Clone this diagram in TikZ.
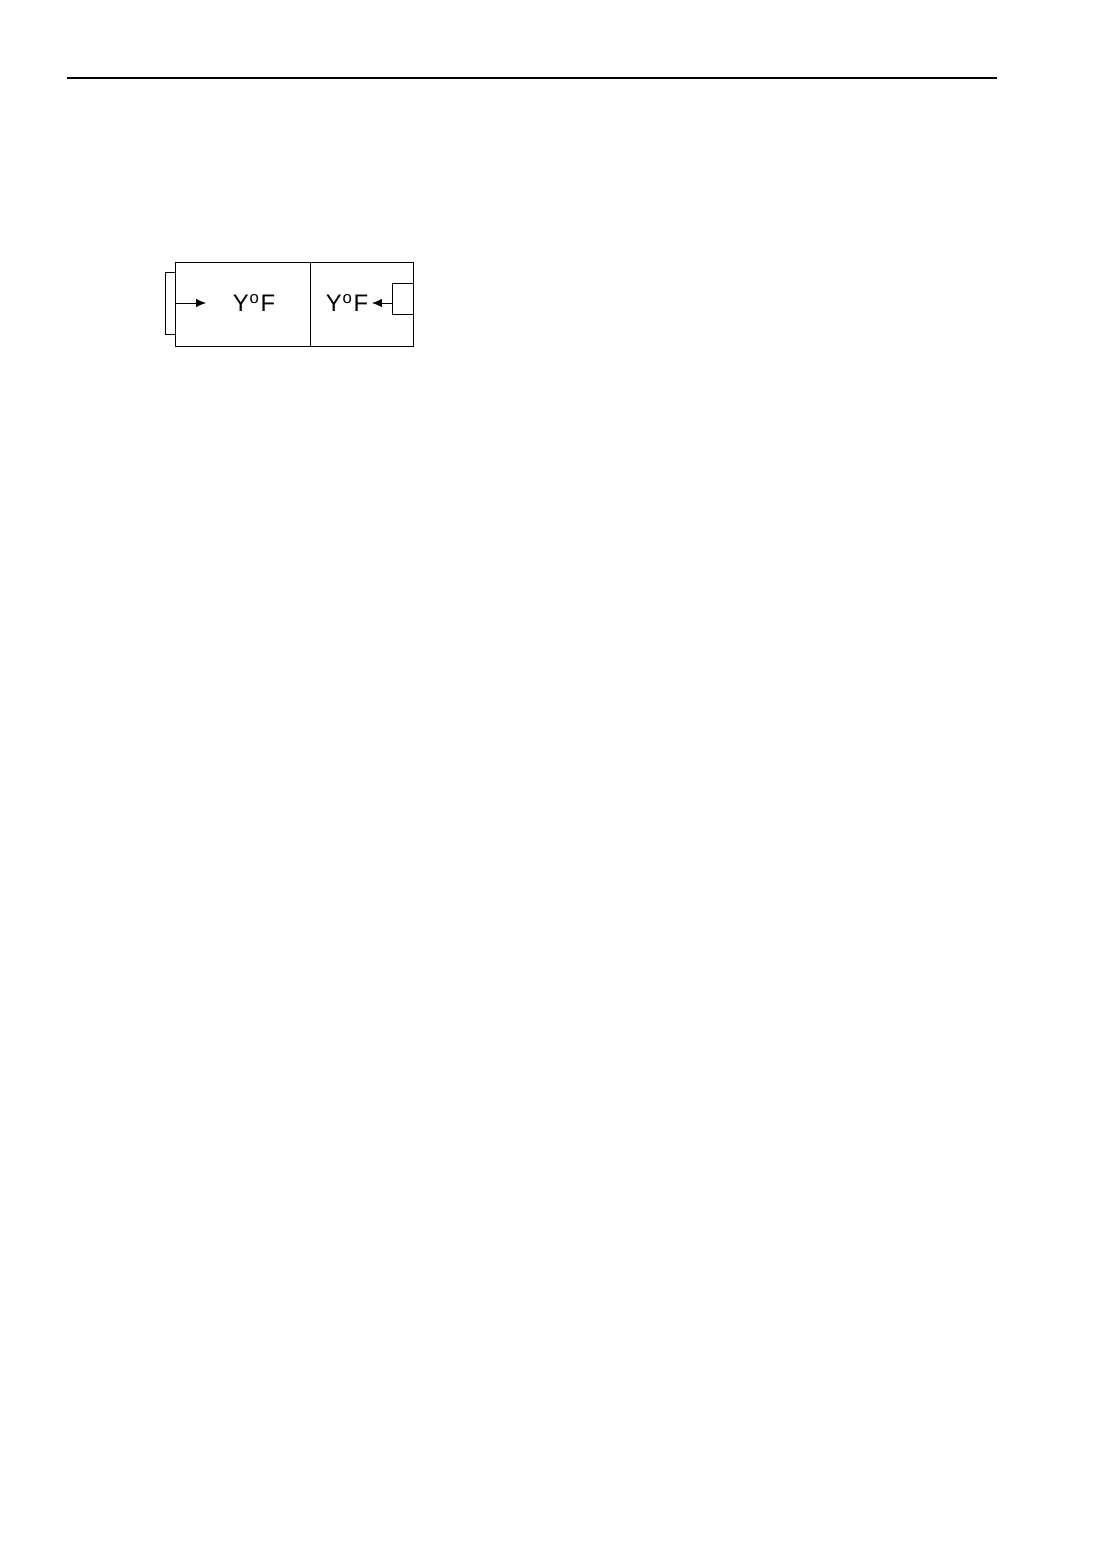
\documentclass[tikz,border=0pt]{standalone}
\usepackage{fontspec}
\setmainfont{Liberation Sans}
\usetikzlibrary{arrows.meta}
\newcommand{\tempmark}{Y\kern0.6pt\textsuperscript{o}\kern0.6pt F}
\begin{document}
\begin{tikzpicture}[x=0.025cm, y=-0.025cm, line width=0.6pt,
	label/.style={inner sep=0pt, font=\fontsize{17}{19}\selectfont},
	feed/.style={-{Latex[length=7pt,width=6pt]}}]
	\useasboundingbox (0,0) rectangle (1094,1550);

	% header rule
	\draw[line width=2pt] (67,78) -- (997,78);

	% the two chambers
	\draw (175,262) rectangle (413,346);
	\draw (310,262) -- (310,346);

	% left side bracket and feed
	\draw (175,272) -- (165,272) -- (165,334) -- (175,334);
	\coordinate (lin) at (175,303);
	\coordinate (ltip) at (206,303);
	\draw[feed] (lin) -- (ltip);
	\node[label] (lefttemp) at (254,303) {\tempmark};

	% right side bracket and feed
	\draw (413,283) -- (392,283) -- (392,314) -- (413,314);
	\coordinate (rin) at (392,303);
	\coordinate (rtip) at (372,303);
	\draw[feed] (rin) -- (rtip);
	\node[label] (righttemp) at (347,303) {\tempmark};
\end{tikzpicture}
\end{document}
